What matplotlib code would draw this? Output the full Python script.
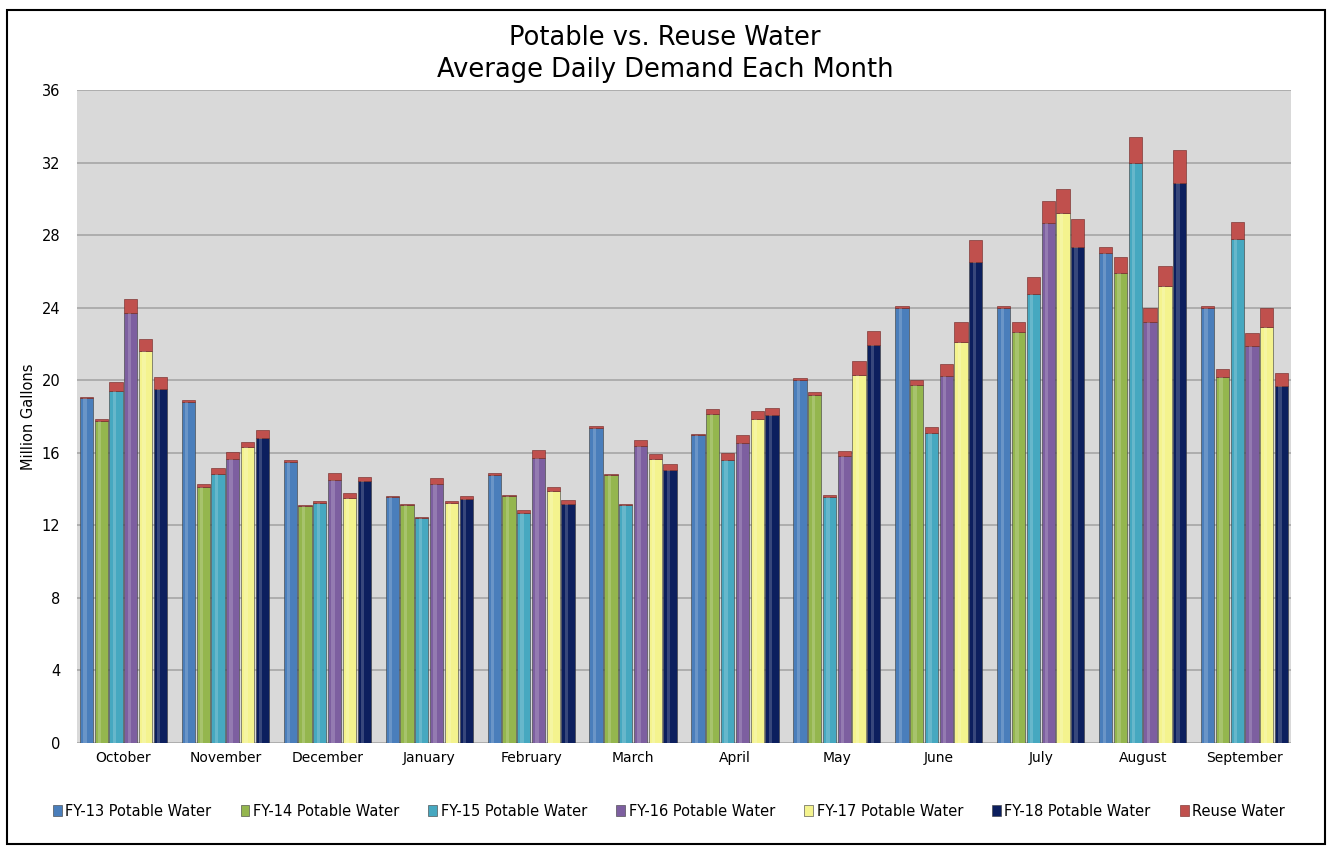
import matplotlib
matplotlib.use("Agg")
import matplotlib.pyplot as plt
from matplotlib.patches import Rectangle
import numpy as np

months = ["October", "November", "December", "January", "February", "March",
          "April", "May", "June", "July", "August", "September"]
series_names = ["FY-13 Potable Water", "FY-14 Potable Water", "FY-15 Potable Water",
                "FY-16 Potable Water", "FY-17 Potable Water", "FY-18 Potable Water"]
reuse_name = "Reuse Water"

fy13 = [19.0, 18.8, 15.5, 13.55, 14.8, 17.35, 17.0, 20.0, 24.0, 24.0, 27.0, 24.0]
fy14 = [17.76, 14.13, 13.05, 13.1, 13.6, 14.8, 18.14, 19.2, 19.72, 22.66, 25.89, 20.19]
fy15 = [19.4, 14.83, 13.23, 12.4, 12.66, 13.1, 15.6, 13.54, 17.07, 24.75, 31.95, 27.78]
fy16 = [23.7, 15.64, 14.5, 14.3, 15.7, 16.39, 16.55, 15.84, 20.25, 28.65, 23.23, 21.9]
fy17 = [21.63, 16.32, 13.52, 13.23, 13.9, 15.64, 17.88, 20.29, 22.12, 29.23, 25.19, 22.95]
fy18 = [19.5, 16.8, 14.44, 13.47, 13.2, 15.05, 18.06, 21.94, 26.52, 27.36, 30.89, 19.7]

reuse13 = [0.1, 0.1, 0.12, 0.05, 0.1, 0.1, 0.05, 0.1, 0.1, 0.1, 0.33, 0.1]
reuse14 = [0.1, 0.13, 0.05, 0.1, 0.1, 0.05, 0.3, 0.15, 0.3, 0.55, 0.92, 0.43]
reuse15 = [0.5, 0.31, 0.12, 0.05, 0.18, 0.05, 0.37, 0.13, 0.37, 0.92, 1.47, 0.97]
reuse16 = [0.77, 0.42, 0.37, 0.3, 0.43, 0.33, 0.41, 0.27, 0.66, 1.23, 0.73, 0.72]
reuse17 = [0.62, 0.3, 0.28, 0.13, 0.19, 0.31, 0.45, 0.77, 1.11, 1.34, 1.11, 1.06]
reuse18 = [0.7, 0.45, 0.24, 0.13, 0.2, 0.31, 0.43, 0.77, 1.19, 1.51, 1.8, 0.68]

yticks = [0, 4, 8, 12, 16, 20, 24, 28, 32, 36]

potable = [fy13, fy14, fy15, fy16, fy17, fy18]
reuse = [reuse13, reuse14, reuse15, reuse16, reuse17, reuse18]
colors = ["#4A7EBB", "#94B64E", "#46A8C0", "#7D5FA0", "#F4F38E", "#0C1F5E"]
reuse_color = "#C0504D"

fig = plt.figure(figsize=(13.3, 8.47), dpi=100)
ax = fig.add_axes([0.0579, 0.1228, 0.9128, 0.7709])
ax.set_facecolor("#D9D9D9")

x = np.arange(len(months))
pitch = 0.145
width = 0.13
handles = []
for j, (vals, rv, c) in enumerate(zip(potable, reuse, colors)):
    xs = x + (j - 2.5) * pitch
    h = ax.bar(xs, vals, width=width, color=c, edgecolor="#3a3a3a", linewidth=0.4,
               label=series_names[j], zorder=3)
    handles.append(h)
    ax.bar(xs - width * 0.12, vals, width=width * 0.25, color="white", alpha=0.18,
           linewidth=0, zorder=4)
    hr = ax.bar(xs, rv, bottom=vals, width=width, color=reuse_color, edgecolor="#6e2220",
                linewidth=0.4, zorder=3)
handles.append(hr)

ax.set_xlim(-0.455, 11.455)
ax.set_ylim(0, 36)
ax.set_yticks(yticks)
ax.set_yticklabels([str(t) for t in yticks], fontsize=10.5)
ax.set_xticks(x)
ax.set_xticklabels(months, fontsize=10)
ax.tick_params(axis="both", length=0, pad=6)
ax.tick_params(axis="y", pad=12)
ax.yaxis.grid(True, color="#A6A6A6", linewidth=1.2, zorder=0)
ax.set_axisbelow(True)
for s in ax.spines.values():
    s.set_visible(False)
ax.set_ylabel("Million Gallons", fontsize=10.5, labelpad=4)

fig.text(0.5, 0.955, "Potable vs. Reuse Water", ha="center", va="center", fontsize=18.5)
fig.text(0.5, 0.917, "Average Daily Demand Each Month", ha="center", va="center", fontsize=18.5)

fig.legend(handles, series_names + [reuse_name], loc="center", bbox_to_anchor=(0.503, 0.042),
           ncol=7, frameon=False, fontsize=10.5, handlelength=0.6, handleheight=0.8,
           handletextpad=0.25, columnspacing=2.0)

fig.patches.append(Rectangle((0.005, 0.003), 0.991, 0.985, transform=fig.transFigure,
                             fill=False, edgecolor="black", linewidth=1.5))

fig.savefig("out.png", dpi=100)
